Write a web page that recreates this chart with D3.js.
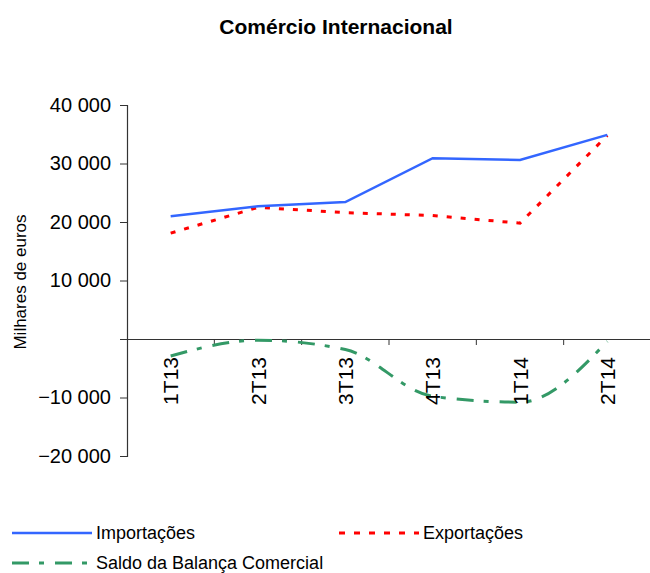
<!DOCTYPE html>
<html><head><meta charset="utf-8">
<script src="https://cdn.jsdelivr.net/npm/d3@7"></script>
<style>body{margin:0;background:#fff}svg{display:block}text{font-family:"Liberation Sans",Arial,sans-serif;fill:#000}</style>
</head><body><svg id="c" width="650" height="573"></svg>
<script>
const categories = ["1T13","2T13","3T13","4T13","1T14","2T14"];
const importacoes = [21000, 22700, 23400, 30900, 30600, 34900];
const exportacoes = [18100, 22500, 21600, 21100, 19800, 34800];
const saldo = [-2900, -200, -1800, -9800, -10800, -400];
const yTicks = [-20000, -10000, 0, 10000, 20000, 30000, 40000];
const seriesNames = ["Importações", "Exportações", "Saldo da Balança Comercial"];

const svg = d3.select("#c");
const x = d3.scaleBand().domain(categories).range([127, 651]).padding(0);
const y = d3.scaleLinear().domain([-20000, 40000]).range([456, 105]);
const cx = c => x(c) + x.bandwidth() / 2;
const fmt = v => v === 0 ? "" : d3.format(",")(v).replace(/,/g, " ");

svg.append("text").attr("x", 336).attr("y", 34).attr("text-anchor", "middle")
  .style("font-size", "21px").style("font-weight", "bold").text("Comércio Internacional");

// y axis
const yAxis = d3.axisLeft(y).tickValues(yTicks).tickFormat(fmt).tickSize(7).tickPadding(9);
const ga = svg.append("g").attr("transform", "translate(127,0)").call(yAxis);
ga.select(".domain").attr("stroke", "#333").attr("stroke-width", 1.2);
ga.selectAll(".tick line").attr("stroke", "#333");
ga.selectAll(".tick text").style("font-size", "20px").style("font-family", "Liberation Sans, Arial, sans-serif").attr("fill", "#000");

svg.append("text").attr("transform", "translate(26,282) rotate(-90)").attr("text-anchor", "middle")
  .style("font-size", "17px").text("Milhares de euros");

// x axis at zero
const xAxis = d3.axisBottom(x).tickSize(0).tickFormat("");
const gx = svg.append("g").attr("transform", `translate(0,${y(0)})`).call(xAxis);
gx.select(".domain").attr("stroke", "#333").attr("stroke-width", 1.2);
gx.selectAll(".bt").data(categories.slice(1)).enter().append("line")
  .attr("x1", d => x(d)).attr("x2", d => x(d)).attr("y1", 0).attr("y2", 6).attr("stroke", "#333");

// series
const lineStraight = d3.line().x((d, i) => cx(categories[i])).y(d => y(d));
const lineSmooth = d3.line().x((d, i) => cx(categories[i])).y(d => y(d)).curve(d3.curveMonotoneX);

svg.append("path").attr("d", lineSmooth(saldo)).attr("fill", "none").attr("stroke", "#339966")
  .attr("stroke-width", 3).attr("stroke-dasharray", "17,10,5,11");
svg.append("path").attr("d", lineStraight(exportacoes)).attr("fill", "none").attr("stroke", "#FF0000")
  .attr("stroke-width", 3).attr("stroke-dasharray", "5,9");
svg.append("path").attr("d", lineStraight(importacoes)).attr("fill", "none").attr("stroke", "#3366FF")
  .attr("stroke-width", 2.5);

// x labels
svg.selectAll(".xl").data(categories).enter().append("text")
  .attr("transform", d => `translate(${cx(d)},357) rotate(-90)`)
  .attr("text-anchor", "end").attr("dy", "0.36em").style("font-size", "21px").text(d => d);

// legend
const legend = [
  {name: seriesNames[0], color: "#3366FF", dash: null, w: 2.5, x: 12, y: 533},
  {name: seriesNames[1], color: "#FF0000", dash: "6,9", w: 3, x: 339, y: 533},
  {name: seriesNames[2], color: "#339966", dash: "17,10,5,11", w: 3, x: 12, y: 563}
];
legend.forEach(l => {
  svg.append("line").attr("x1", l.x).attr("x2", l.x + 80).attr("y1", l.y).attr("y2", l.y)
    .attr("stroke", l.color).attr("stroke-width", l.w).attr("stroke-dasharray", l.dash);
  svg.append("text").attr("x", l.x + 84).attr("y", l.y + 6).style("font-size", "18px").text(l.name);
});
</script></body></html>
